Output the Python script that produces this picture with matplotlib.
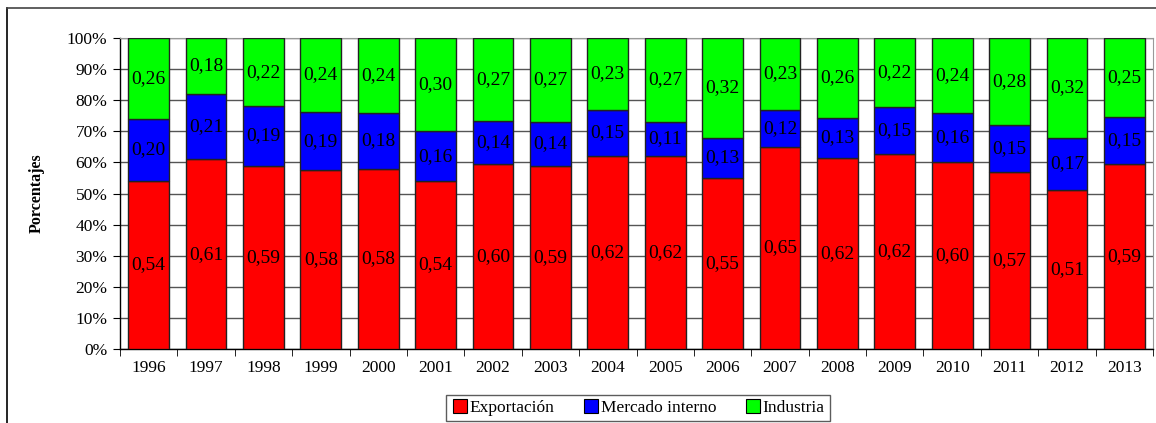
import numpy as np
import matplotlib.pyplot as plt
from matplotlib.lines import Line2D

plt.rcParams['font.family'] = ['Liberation Serif', 'DejaVu Serif']

years = ['1996', '1997', '1998', '1999', '2000', '2001', '2002', '2003', '2004',
         '2005', '2006', '2007', '2008', '2009', '2010', '2011', '2012', '2013']
exportacion = [0.54, 0.61, 0.59, 0.58, 0.58, 0.54, 0.60, 0.59, 0.62,
               0.62, 0.55, 0.65, 0.62, 0.62, 0.60, 0.57, 0.51, 0.59]
mercado = [0.20, 0.21, 0.19, 0.19, 0.18, 0.16, 0.14, 0.14, 0.15,
           0.11, 0.13, 0.12, 0.13, 0.15, 0.16, 0.15, 0.17, 0.15]
industria = [0.26, 0.18, 0.22, 0.24, 0.24, 0.30, 0.27, 0.27, 0.23,
             0.27, 0.32, 0.23, 0.26, 0.22, 0.24, 0.28, 0.32, 0.25]

series = [('Exportación', exportacion, '#ff0000'),
          ('Mercado interno', mercado, '#0000ff'),
          ('Industria', industria, '#00ff00')]

fig = plt.figure(figsize=(11.56, 4.23), dpi=100)
ax = fig.add_axes([120 / 1156, 1 - 349 / 423, 1033 / 1156, 311 / 423])

x = np.arange(len(years))
tot = np.array(exportacion) + np.array(mercado) + np.array(industria)
bottom = np.zeros(len(years))
handles = []
for name, vals, col in series:
    v = np.array(vals)
    h = v / tot
    ax.bar(x, h, bottom=bottom, width=0.71, color=col, edgecolor='#222222',
           linewidth=1.0, zorder=3)
    for xi, b, hi, lab in zip(x, bottom, h, vals):
        ax.text(xi, b + hi / 2, f'{lab:.2f}'.replace('.', ','), ha='center',
                va='center', fontsize=14, zorder=4)
    bottom += h
    handles.append(Line2D([], [], marker='s', linestyle='none', markersize=10,
                          markerfacecolor=col, markeredgecolor='black',
                          markeredgewidth=0.8, label=name))

ax.set_xlim(-0.5, len(years) - 0.5)
ax.set_ylim(0, 1)
ax.set_yticks(np.arange(0, 1.01, 0.1))
ax.set_yticklabels([f'{int(round(t * 100))}%' for t in np.arange(0, 1.01, 0.1)])
ax.yaxis.grid(True, color='#555555', linewidth=1.0, zorder=0)
ax.set_xticks(x)
ax.set_xticklabels(years)
ax.set_xticks(np.arange(-0.5, len(years), 1), minor=True)
ax.tick_params(axis='x', which='major', length=0, pad=8, labelsize=12.5)
ax.tick_params(axis='x', which='minor', length=5, color='black')
ax.tick_params(axis='y', length=5, labelsize=12.5, pad=4)

for s in ['top', 'right']:
    ax.spines[s].set_color('#999999')
for s in ['left', 'bottom']:
    ax.spines[s].set_color('black')
    ax.spines[s].set_linewidth(1.0)

fig.text(37 / 1156, 1 - 193 / 423, 'Porcentajes', rotation=90, ha='center',
         va='center', fontsize=11.5, fontweight='bold')

leg = fig.legend(handles=handles, loc='center', bbox_to_anchor=(638 / 1156, 1 - 408 / 423),
                 ncol=3, frameon=True, fancybox=False, fontsize=12.5, handletextpad=0.05,
                 columnspacing=1.6, borderpad=0.3, handlelength=1.0)
leg.get_frame().set_edgecolor('#333333')
leg.get_frame().set_linewidth(1.0)

# outer frame (left and top edges)
fig.add_artist(Line2D([7 / 1156, 7 / 1156], [0, 1 - 8 / 423], color='black', linewidth=1.2))
fig.add_artist(Line2D([7 / 1156, 1], [1 - 8 / 423, 1 - 8 / 423], color='#444444', linewidth=1.2))

fig.savefig('out.png', dpi=100)
